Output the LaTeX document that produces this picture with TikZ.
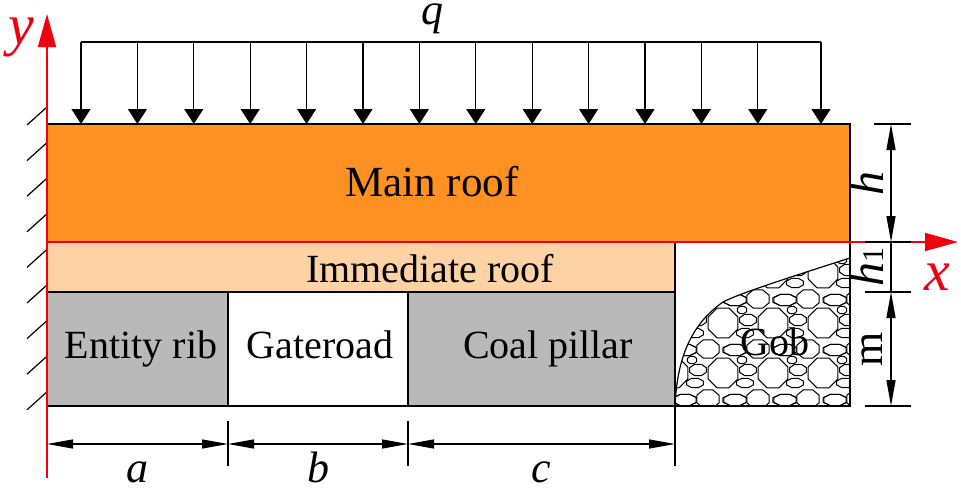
\documentclass[tikz,border=0pt]{standalone}
\usepackage{fontspec}
\setmainfont{Liberation Serif}
\usetikzlibrary{arrows.meta}
\definecolor{mainroof}{HTML}{FF9122}
\definecolor{immroof}{HTML}{FDD3A6}
\definecolor{coalgrey}{HTML}{B9B9B9}
\definecolor{axisred}{HTML}{F0000F}
\tikzset{
  label40/.style={font=\fontsize{40}{44}\selectfont, inner sep=0pt, anchor=base},
  mathlabel/.style={font=\fontsize{44}{48}\selectfont\itshape, inner sep=0pt, anchor=base},
  biglabel/.style={font=\fontsize{58}{62}\selectfont\itshape, inner sep=0pt, anchor=base},
  axis/.style={axisred, line width=1.5pt, -{Triangle[length=33pt,width=18pt]}},
  load/.style={black, line width=1.2pt, -{Triangle[length=15pt,width=19pt]}},
  dim/.style={black, line width=1.2pt, {Triangle[length=26pt,width=9pt]}-{Triangle[length=26pt,width=9pt]}},
  thinline/.style={black, line width=1.2pt},
  stone/.style={black, line width=1pt, fill=white, line join=round},
}
\newcommand{\gobcurve}{(675,406) .. controls (677,360) and (690,325) .. (723,302) .. controls (740,293) and (800,274) .. (850,258)}
\begin{document}
\begin{tikzpicture}[x=1pt,y=-1pt]
            \useasboundingbox (0,0) rectangle (961,488);
            \coordinate (O) at (47,242);
            \coordinate (R) at (850,242);
            \coordinate (B1) at (228,444);
            \coordinate (B2) at (408,444);
            \coordinate (B3) at (675,444);
            \coordinate (D0) at (891,124);
            \coordinate (D1) at (891,242);
            \coordinate (D2) at (891,292);
            \coordinate (D3) at (891,406);

            \fill[mainroof] (47,124) rectangle (850,242);
            \fill[immroof] (47,242) rectangle (675,292);
            \fill[coalgrey] (47,292) rectangle (228,406);
            \fill[coalgrey] (408,292) rectangle (675,406);

            \begin{scope}
                \clip \gobcurve -- (850,406) -- cycle;
                \foreach \bx in {673,723,773,823,873}
                    \foreach \by in {273,323,373,423}
                        \foreach \dx/\dy/\rx/\ry in {0/0/16/16, -15/26/12/10, 12/-23/12/6, 25/-3/9/6, 22/10/9/5, 19/-13/5/4, 12/27/13/6}
                            \draw[stone] plot[samples at={22.5,67.5,...,337.5}] ({\bx+\dx+\rx*cos(\x)},{\by+\dy+\ry*sin(\x)}) -- cycle;
            \end{scope}
            \draw[thinline] \gobcurve;

            \draw[thinline] (47,124) -- (850,124) -- (850,406) -- (47,406);
            \draw[thinline] (47,292) -- (675,292);
            \draw[thinline] (228,292) -- (228,406);
            \draw[thinline] (408,292) -- (408,406);
            \draw[thinline] (675,242) -- (675,466);

            \foreach \i in {0,...,8}
                \draw[thinline] (27,{125+35.6*\i}) -- (47,{107+35.6*\i});

            \draw[thinline] (81,42) -- (821,42);
            \foreach \i in {0,...,12}
                \draw[load] ({81+56.4*\i},42) -- ({81+56.4*\i},124);
            \draw[load] (821,42) -- (821,124);

            \draw[axisred, line width=1.5pt] (O) -- (R);
            \draw[axis] (47,478) -- (47,14);
            \draw[axis] (R) -- (958,242);

            \draw[thinline] (874,124) -- (911,124);
            \draw[thinline] (865,242) -- (911,242);
            \draw[thinline] (865,292) -- (911,292);
            \draw[thinline] (865,406) -- (911,406);
            \draw[dim] (D0) -- (D1);
            \draw[thinline] (D1) -- (D2);
            \draw[dim] (D2) -- (D3);

            \draw[thinline] (228,421) -- (228,466);
            \draw[thinline] (408,421) -- (408,466);
            \draw[dim] (O |- B1) -- (B1);
            \draw[dim] (B1) -- (B2);
            \draw[dim] (B2) -- (B3);

            \node[label40, font=\fontsize{43}{47}\selectfont] (mainlabel) at (432,196) {Main roof};
            \node[label40] (immlabel) at (430,282) {Immediate roof};
            \node[label40] (riblabel) at (141,358) {Entity rib};
            \node[label40] (gatelabel) at (320,358) {Gateroad};
            \node[label40] (pillarlabel) at (548,358) {Coal pillar};
            \node[label40] (goblabel) at (775,355) {Gob};
            \node[mathlabel] (qlabel) at (432,24) {q};
            \node[biglabel, axisred] (ylabel) at (21,44) {y};
            \node[biglabel, axisred] (xlabel) at (937,290) {x};
            \node[mathlabel] (alabel) at (137,482) {a};
            \node[mathlabel] (blabel) at (318,482) {b};
            \node[mathlabel] (clabel) at (541,482) {c};
            \node[mathlabel, font=\fontsize{48}{52}\selectfont\itshape, rotate=90] (hlabel) at (883,183) {h};
            \node[mathlabel, font=\fontsize{48}{52}\selectfont\itshape, rotate=90] (h1label) at (883,267) {h\fontsize{30}{30}\selectfont\upshape 1};
            \node[label40, font=\fontsize{44}{48}\selectfont, rotate=90] (mlabel) at (882,349) {m};
        \end{tikzpicture}
\end{document}
